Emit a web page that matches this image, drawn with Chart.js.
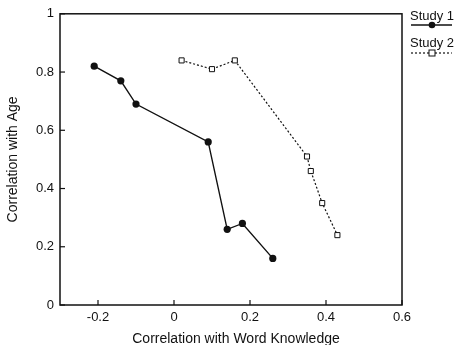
<!DOCTYPE html>
<html>
<head>
<meta charset="utf-8">
<script src="https://cdn.jsdelivr.net/npm/chart.js@4/dist/chart.umd.min.js"></script>
<style>
html,body{margin:0;padding:0;background:#fff;}
#wrap{width:459px;height:345px;position:relative;}
</style>
</head>
<body>
<div id="wrap"><canvas id="c" width="459" height="345"></canvas></div>
<script>
const study1X = [-0.21, -0.14, -0.10, 0.09, 0.14, 0.18, 0.26];
const study1Y = [0.82, 0.77, 0.69, 0.56, 0.26, 0.28, 0.16];
const study2X = [0.02, 0.10, 0.16, 0.35, 0.36, 0.39, 0.43];
const study2Y = [0.84, 0.81, 0.84, 0.51, 0.46, 0.35, 0.24];
const xTicks = [-0.2, 0, 0.2, 0.4, 0.6];
const yTicks = [0, 0.2, 0.4, 0.6, 0.8, 1];
const seriesNames = ['Study 1', 'Study 2'];
const xTitle = 'Correlation with Word Knowledge';
const yTitle = 'Correlation with Age';

const FONT = '"Liberation Sans", Arial, sans-serif';
const INK = '#111111';

function pts(xs, ys){ return xs.map((x,i)=>({x:x, y:ys[i]})); }
function fmt(v){ return String(Math.round(v*10)/10); }

const framePlugin = {
  id: 'frame',
  afterDraw(chart){
    const {ctx, chartArea:a, scales} = chart;
    ctx.save();
    ctx.strokeStyle = INK;
    ctx.lineWidth = 1.5;
    ctx.strokeRect(a.left, a.top, a.right - a.left, a.bottom - a.top);
    // inward ticks
    ctx.lineWidth = 1.2;
    xTicks.forEach(v=>{
      const px = scales.x.getPixelForValue(v);
      ctx.beginPath(); ctx.moveTo(px, a.bottom); ctx.lineTo(px, a.bottom - 5); ctx.stroke();
    });
    yTicks.forEach(v=>{
      const py = scales.y.getPixelForValue(v);
      ctx.beginPath(); ctx.moveTo(a.left, py); ctx.lineTo(a.left + 5, py); ctx.stroke();
    });
    // axis titles
    ctx.fillStyle = INK;
    ctx.font = '14px ' + FONT;
    ctx.textAlign = 'center';
    ctx.textBaseline = 'alphabetic';
    ctx.fillText(xTitle, (a.left + a.right)/2 + 5, 343);
    ctx.save();
    ctx.translate(17, (a.top + a.bottom)/2);
    ctx.rotate(-Math.PI/2);
    ctx.fillText(yTitle, 0, 0);
    ctx.restore();
    // legend
    const lx0 = 411, lx1 = 452, lc = 432;
    ctx.font = '13px ' + FONT;
    ctx.textAlign = 'center';
    ctx.fillText(seriesNames[0], lc, 20);
    ctx.lineWidth = 1.3;
    ctx.setLineDash([]);
    ctx.beginPath(); ctx.moveTo(lx0, 25); ctx.lineTo(lx1, 25); ctx.stroke();
    ctx.beginPath(); ctx.arc(lc, 25, 3.3, 0, Math.PI*2); ctx.fill();
    ctx.fillText(seriesNames[1], lc, 47);
    ctx.lineWidth = 1.2;
    ctx.setLineDash([2,2]);
    ctx.beginPath(); ctx.moveTo(lx0, 53); ctx.lineTo(lx1, 53); ctx.stroke();
    ctx.setLineDash([]);
    ctx.fillStyle = '#fff';
    ctx.fillRect(lc-3, 50, 6, 6);
    ctx.lineWidth = 1;
    ctx.strokeRect(lc-3, 50, 6, 6);
    ctx.restore();
  }
};

new Chart(document.getElementById('c'), {
  type: 'scatter',
  data: {
    datasets: [
      {
        label: seriesNames[0],
        data: pts(study1X, study1Y),
        showLine: true,
        borderColor: INK,
        borderWidth: 1.4,
        backgroundColor: INK,
        pointStyle: 'circle',
        pointRadius: 3.6,
        pointBorderWidth: 0,
        pointBackgroundColor: INK
      },
      {
        label: seriesNames[1],
        data: pts(study2X, study2Y),
        showLine: true,
        borderColor: INK,
        borderWidth: 1.2,
        borderDash: [2,2],
        pointStyle: 'rect',
        pointRadius: 3.6,
        pointBorderWidth: 1,
        pointBorderColor: INK,
        pointBackgroundColor: '#fff'
      }
    ]
  },
  options: {
    responsive: false,
    animation: false,
    layout: { padding: { top: 10, right: 57, left: 0, bottom: 0 } },
    plugins: { legend: { display: false }, tooltip: { enabled: false } },
    scales: {
      x: {
        type: 'linear', min: -0.3, max: 0.6,
        grid: { display: false, drawTicks: false },
        border: { display: false },
        afterFit(s){ s.height = 40; },
        afterBuildTicks(s){ s.ticks = xTicks.map(v=>({value:v})); },
        ticks: { color: INK, padding: 5, font: { family: FONT, size: 13 }, callback: v => fmt(v) }
      },
      y: {
        type: 'linear', min: 0, max: 1,
        grid: { display: false, drawTicks: false },
        border: { display: false },
        afterFit(s){ s.width = 60; },
        afterBuildTicks(s){ s.ticks = yTicks.map(v=>({value:v})); },
        ticks: { color: INK, padding: 6, font: { family: FONT, size: 13 }, callback: v => fmt(v) }
      }
    }
  },
  plugins: [framePlugin]
});
</script>
</body>
</html>
